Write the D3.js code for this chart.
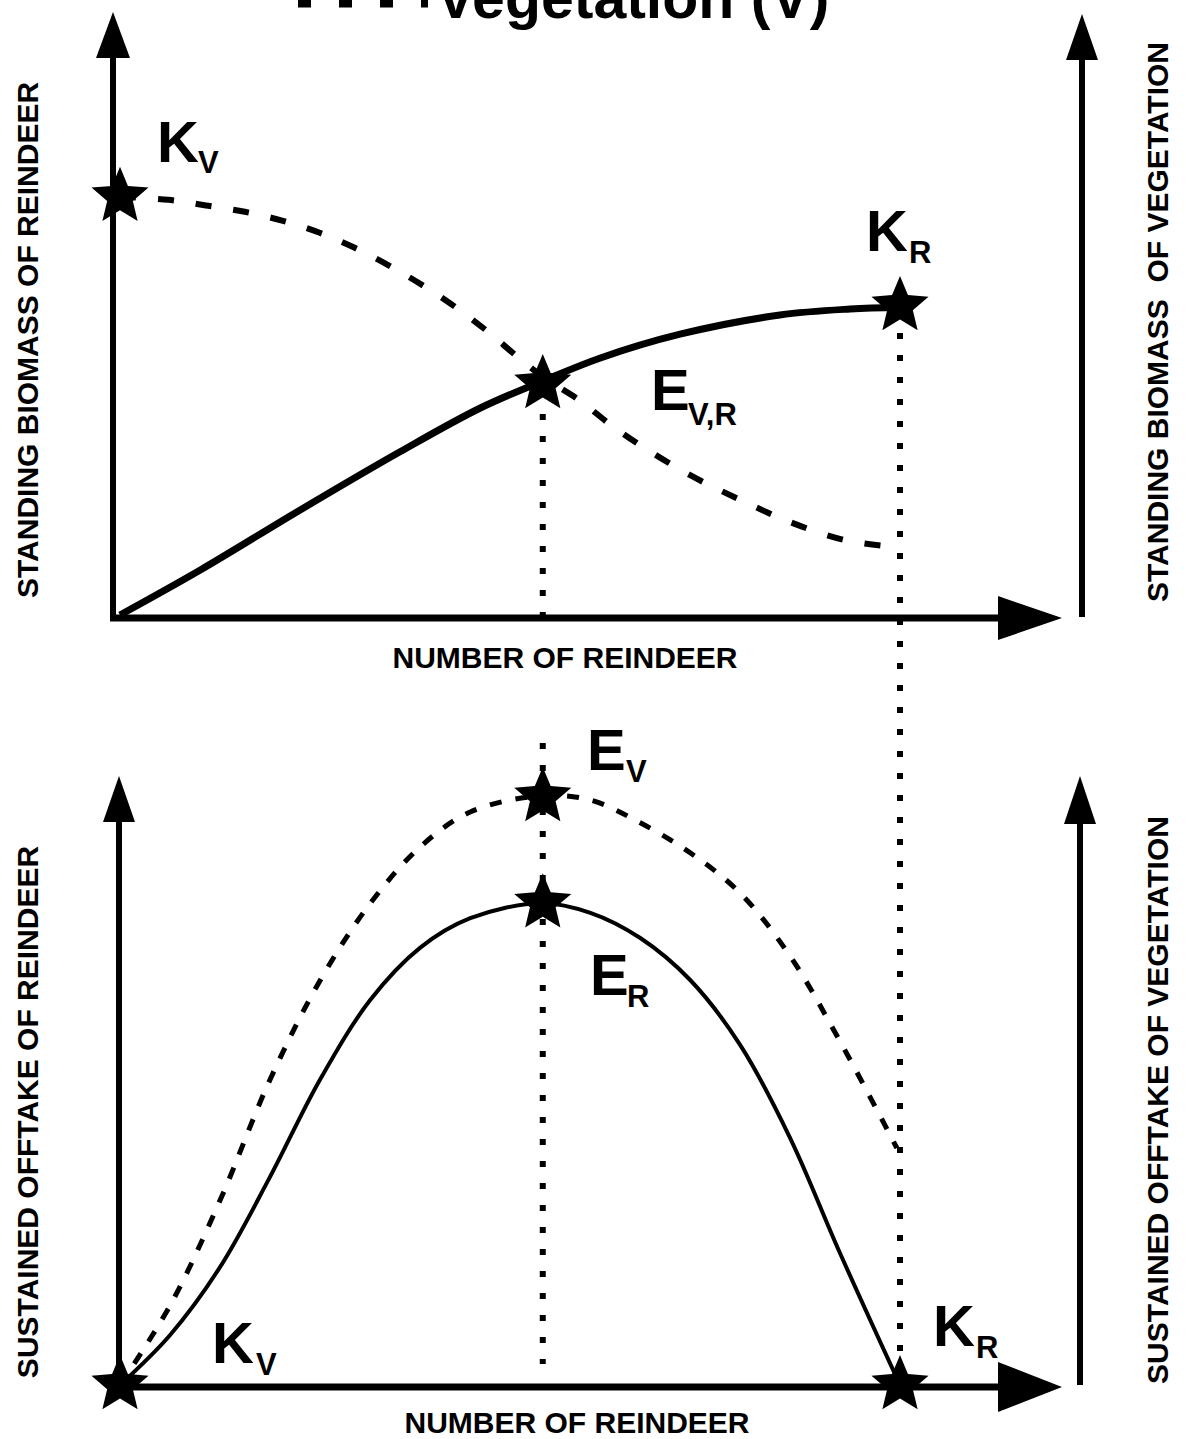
<!DOCTYPE html>
<html><head><meta charset="utf-8">
<script src="https://cdn.jsdelivr.net/npm/d3@7"></script>
<style>
body{margin:0;background:#fff}
text{font-family:"Liberation Sans",Arial,sans-serif;font-weight:bold;fill:#000}
</style>
</head><body>
<svg id="chart" width="1188" height="1439"></svg>
<script>
// ---------------- DATA (abstract units: x = number of reindeer 0..10, y = 0..100) ----------------
// Upper panel: standing biomass
const topReindeerX   = [0, 1.03, 2.31, 3.59, 4.62, 5.42, 6.15, 7.18, 8.46, 9.36, 10];
const topReindeerY   = [0.5, 8, 18, 27.7, 35, 39.5, 43.3, 47.3, 50.5, 51.5, 51.8];
const topVegetationX = [0, 0.62, 1.13, 1.6, 2.09, 2.56, 3.01, 3.59, 4.17, 4.69, 5.08, 5.42, 5.9, 6.28, 6.67, 7.31, 7.95, 8.59, 9.29, 9.96];
const topVegetationY = [70.2, 69.7, 68.7, 67.7, 66.2, 64.2, 61.7, 57.7, 53, 48, 43.7, 40.2, 36.2, 32.3, 28.8, 23.8, 19.7, 16, 13, 11.8];
// Lower panel: sustained offtake
const botReindeerX   = [0, 0.64, 1.28, 1.92, 2.56, 3.21, 3.85, 4.49, 5.4, 6.03, 6.67, 7.31, 7.95, 8.59, 9.23, 10];
const botReindeerY   = [0, 8.3, 19.6, 34.6, 50.8, 64.2, 72.9, 77.8, 80.3, 78.7, 74.5, 67.5, 56.7, 41.2, 22, 0];
const botVegetationX = [0, 0.64, 1.28, 1.92, 2.56, 3.21, 3.85, 4.49, 5.4, 6.03, 6.67, 7.31, 7.95, 8.59, 9.23, 9.96];
const botVegetationY = [0, 13.2, 30.7, 50.8, 67.3, 80.3, 89.7, 95.5, 98.2, 97.5, 93.7, 88.7, 82, 71.5, 57.3, 39.5];
// Marked points (stars)
const starPanel = ["top", "top", "top", "bottom", "bottom", "bottom", "bottom"];
const starX     = [0, 5.42, 10, 0, 5.42, 5.42, 10];
const starY     = [70.2, 39, 52, 0, 98, 80.3, 0];
// Point labels
const labelMain = ["K", "K", "E", "E", "E", "K", "K"];
const labelSub  = ["V", "R", "V,R", "V", "R", "V", "R"];
// Text
const titleText = "Vegetation (V)";
const xAxisTitle = "NUMBER OF REINDEER";
const yTitlesLeft  = ["STANDING BIOMASS OF REINDEER", "SUSTAINED OFFTAKE OF REINDEER"];
const yTitlesRight = ["STANDING BIOMASS\u00a0 OF VEGETATION", "SUSTAINED OFFTAKE OF VEGETATION"];

// ---------------- SCALES ----------------
const svg = d3.select("#chart");
svg.append("rect").attr("width", 1188).attr("height", 1439).attr("fill", "#fff");
const x = d3.scaleLinear().domain([0, 10]).range([120, 900]);
const yTop = d3.scaleLinear().domain([0, 100]).range([618, 18]);
const yBot = d3.scaleLinear().domain([0, 100]).range([1385, 785]);

// ---------------- AXES ----------------
const axisW = 7;
function arrowUp(cx, tip, base, hw) {
  svg.append("path").attr("d", `M${cx},${tip}L${cx - hw},${base}L${cx + hw},${base}Z`).attr("fill", "#000");
}
function arrowRight(cy, tip, base, hh) {
  svg.append("path").attr("d", `M${tip},${cy}L${base},${cy - hh}L${base},${cy + hh}Z`).attr("fill", "#000");
}
function vline(cx, y1, y2, w) {
  svg.append("line").attr("x1", cx).attr("x2", cx).attr("y1", y1).attr("y2", y2).attr("stroke", "#000").attr("stroke-width", w);
}
function hline(cy, x1, x2, w) {
  svg.append("line").attr("x1", x1).attr("x2", x2).attr("y1", cy).attr("y2", cy).attr("stroke", "#000").attr("stroke-width", w);
}
// top panel
vline(113, yTop(0) + 3, 50, 6); arrowUp(113, 12, 58, 17);
hline(yTop(0), 110, 1002, axisW); arrowRight(yTop(0), 1062, 998, 22);
vline(1082, yTop(0) - 1, 50, 6); arrowUp(1082, 14, 60, 16);
// bottom panel
vline(119, yBot(0) + 3, 815, 6); arrowUp(119, 776, 822, 16);
hline(yBot(0) + 2, 116, 1002, axisW); arrowRight(yBot(0) + 2, 1062, 998, 25);
vline(1080, yBot(0), 815, 6); arrowUp(1080, 776, 824, 16);

// ---------------- DOTTED GUIDES ----------------
const dot = {w: 6, dash: "6,16"};
function dotted(xv, y1, y2) {
  svg.append("line").attr("x1", x(xv)).attr("x2", x(xv)).attr("y1", y1).attr("y2", y2)
    .attr("stroke", "#000").attr("stroke-width", dot.w).attr("stroke-dasharray", dot.dash);
}
dotted(starX[1], yTop(34), yTop(-2.5));
dotted(starX[2], yTop(47.5), yBot(1.5));
dotted(starX[4], yBot(107), yBot(3.5));

// ---------------- CURVES ----------------
const smooth = d3.curveCatmullRom.alpha(0.5);
function curve(xs, ys, ys_scale, w, dash) {
  const pts = xs.map((v, i) => [x(v), ys_scale(ys[i])]);
  const p = svg.append("path").attr("d", d3.line().curve(smooth)(pts))
    .attr("fill", "none").attr("stroke", "#000").attr("stroke-width", w);
  if (dash) p.attr("stroke-dasharray", dash);
}
curve(topVegetationX, topVegetationY, yTop, 6, "16,22");
curve(topReindeerX, topReindeerY, yTop, 7, null);
curve(botVegetationX, botVegetationY, yBot, 5, "12,14");
curve(botReindeerX, botReindeerY, yBot, 4, null);

// ---------------- STARS ----------------
const R = 30, rIn = 13.5;
const starPts = d3.range(10).map(k => [k * Math.PI / 5, k % 2 ? rIn : R]);
const starPath = d3.lineRadial().curve(d3.curveLinearClosed)(starPts);
starX.forEach((v, i) => {
  const ys = starPanel[i] === "top" ? yTop : yBot;
  svg.append("path").attr("d", starPath).attr("transform", `translate(${x(v)},${ys(starY[i])})`).attr("fill", "#000");
});

// ---------------- POINT LABELS ----------------
const labelPos = [
  [157, 162, 198, 173],
  [866, 251, 909, 263],
  [651, 410, 688, 425],
  [587, 770, 626, 782],
  [590, 995, 627, 1007],
  [212, 1363, 256, 1375],
  [933, 1346, 976, 1358]
];
labelMain.forEach((m, i) => {
  const [mx, my, sx, sy] = labelPos[i];
  svg.append("text").attr("x", mx).attr("y", my).attr("font-size", 58).text(m);
  svg.append("text").attr("x", sx).attr("y", sy).attr("font-size", 31).text(labelSub[i]);
});

// ---------------- TITLES ----------------
svg.append("line").attr("x1", 298).attr("x2", 428).attr("y1", 3).attr("y2", 3)
  .attr("stroke", "#000").attr("stroke-width", 9).attr("stroke-dasharray", "13,28");
svg.append("text").attr("x", 436).attr("y", 18).attr("font-size", 59).text(titleText);

svg.append("text").attr("x", 565).attr("y", 668).attr("text-anchor", "middle").attr("font-size", 30).text(xAxisTitle);
svg.append("text").attr("x", 577).attr("y", 1433).attr("text-anchor", "middle").attr("font-size", 30).text(xAxisTitle);

const leftCenters = [340, 1112], rightCenters = [322, 1100];
yTitlesLeft.forEach((t, i) => {
  svg.append("text").attr("transform", `translate(38,${leftCenters[i]}) rotate(-90)`)
    .attr("text-anchor", "middle").attr("font-size", 30).text(t);
});
yTitlesRight.forEach((t, i) => {
  svg.append("text").attr("transform", `translate(1168,${rightCenters[i]}) rotate(-90)`)
    .attr("text-anchor", "middle").attr("font-size", 30).text(t);
});
</script>
</body></html>
